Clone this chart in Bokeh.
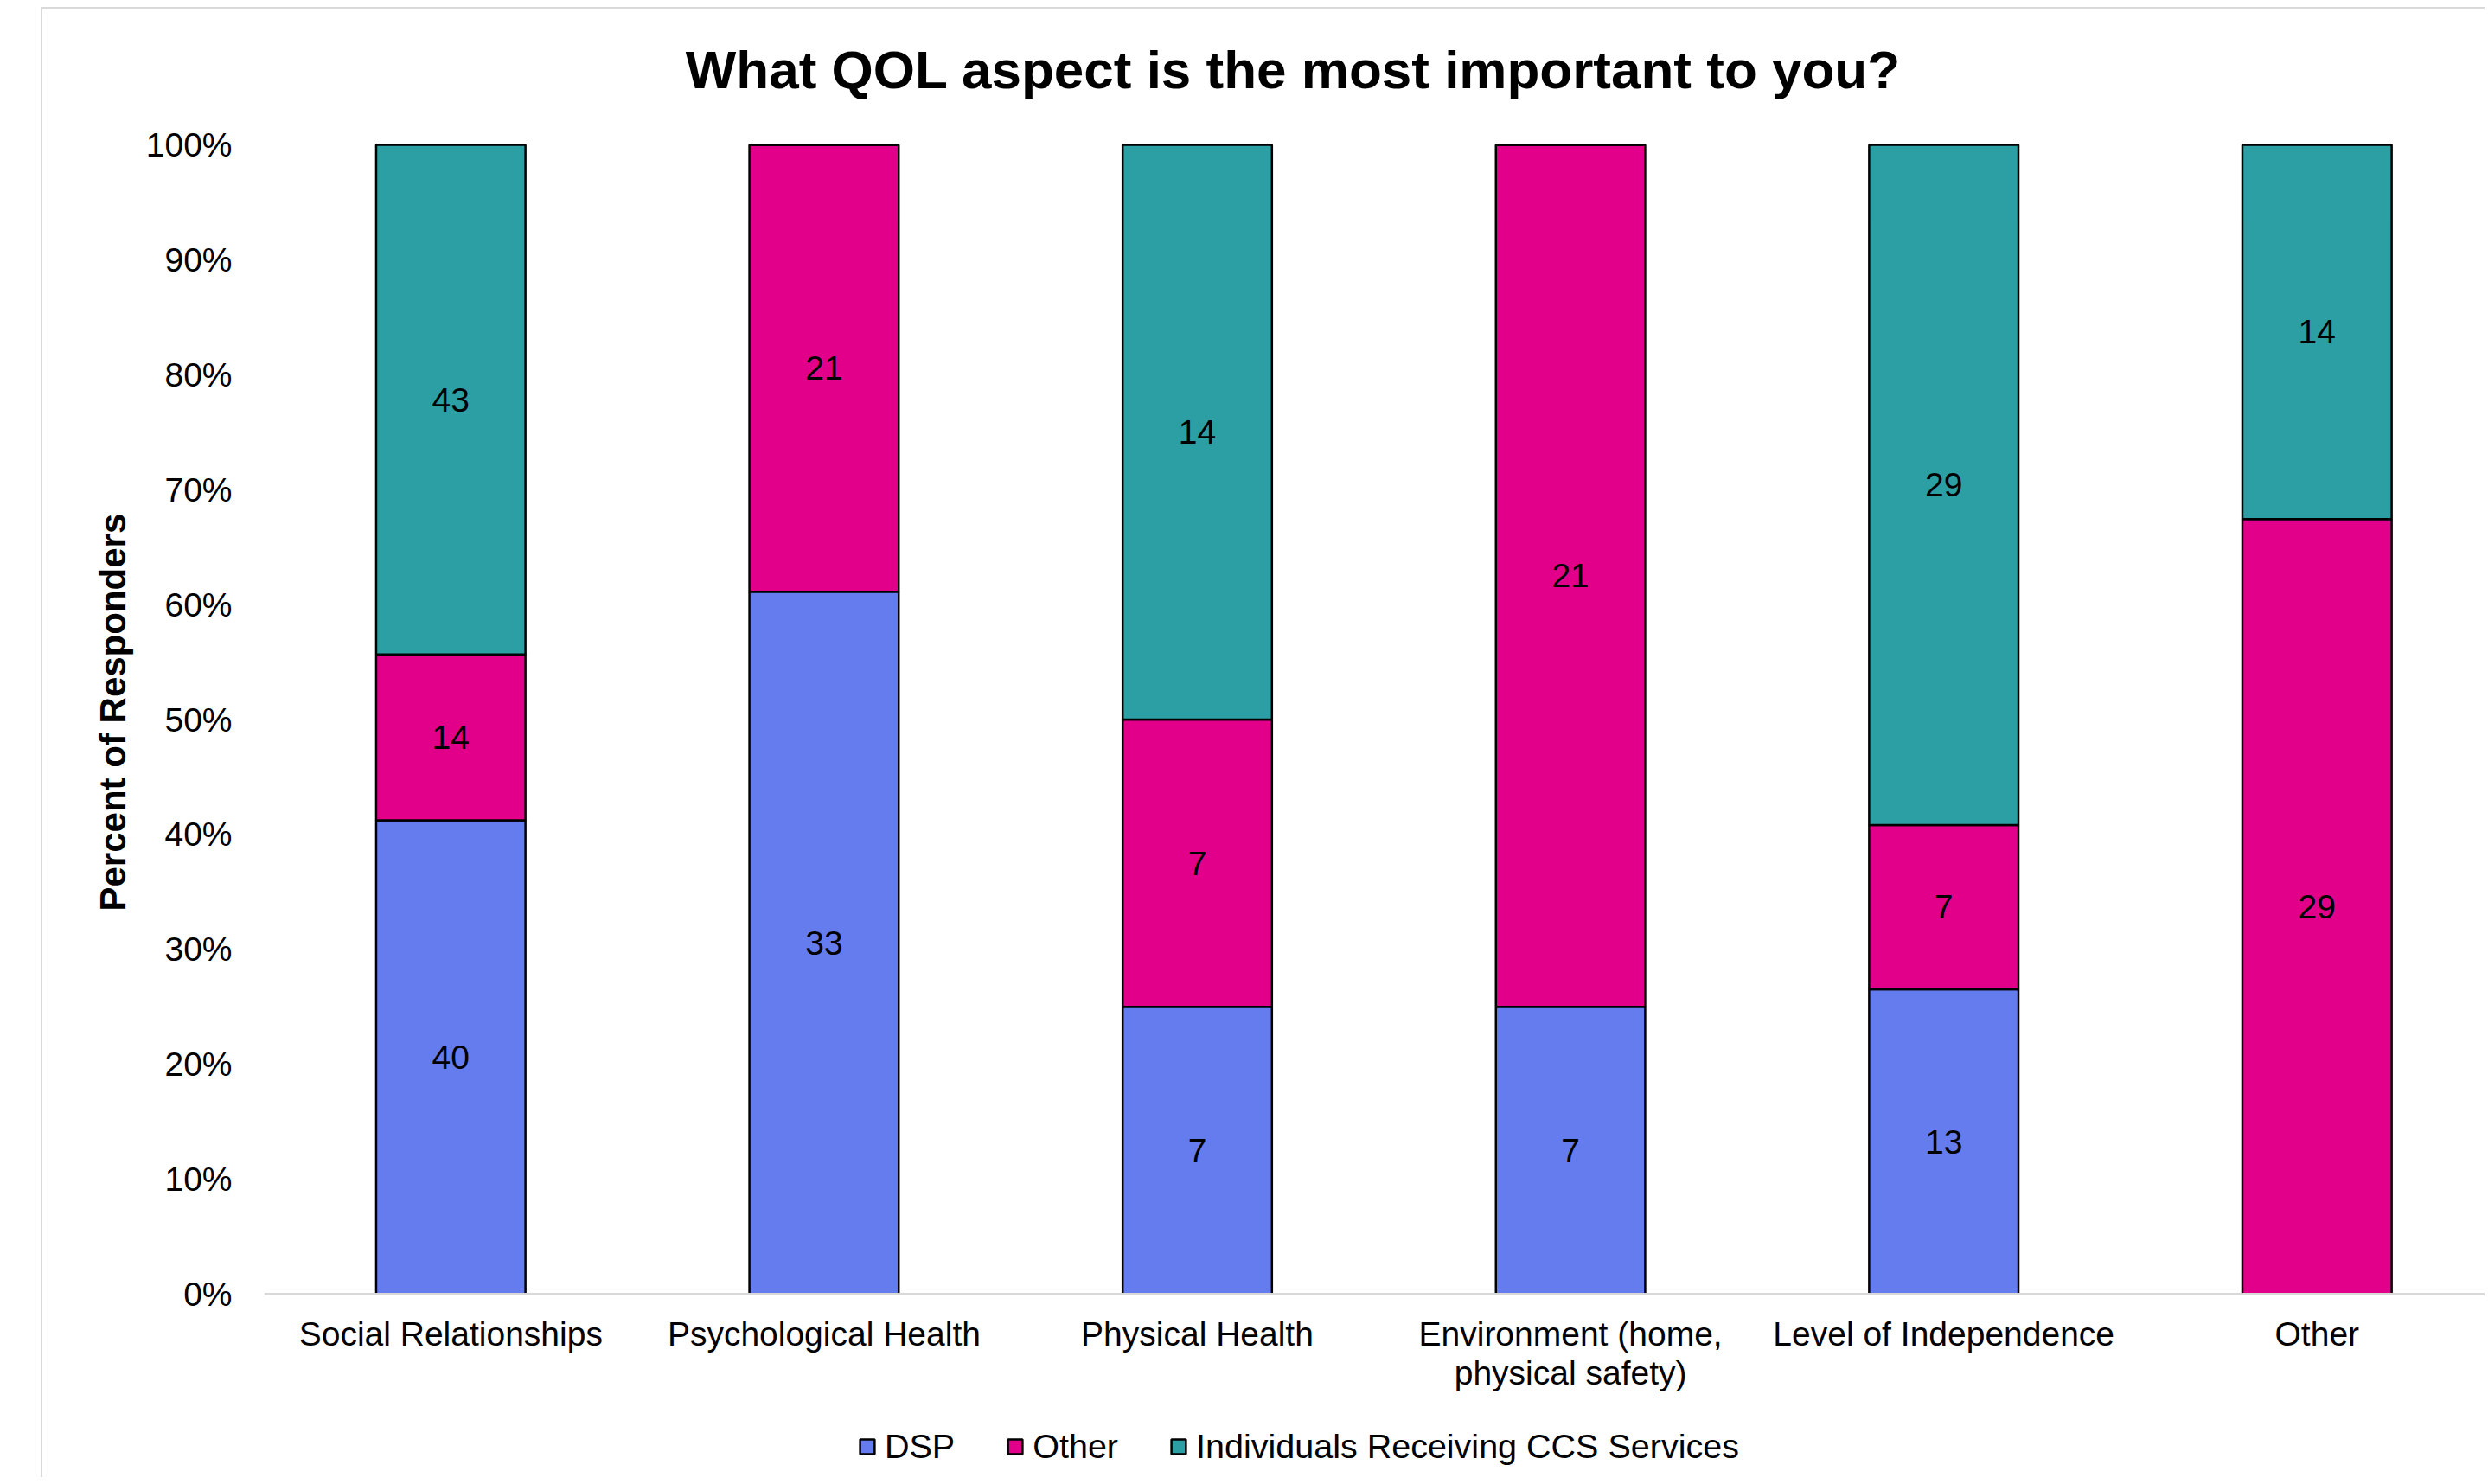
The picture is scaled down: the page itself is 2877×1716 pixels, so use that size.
from bokeh.plotting import figure
from bokeh.models import (ColumnDataSource, Range1d, FixedTicker, NumeralTickFormatter,
                          Legend, LegendItem, Title, Label)
from bokeh.core.properties import value
from bokeh.embed import file_html
from bokeh.resources import INLINE

# ---- data ----
categories = ["Social Relationships", "Psychological Health", "Physical Health",
              "Environment (home,\nphysical safety)", "Level of Independence", "Other"]
dsp = [40, 33, 7, 7, 13, 0]
other = [14, 21, 7, 21, 7, 29]
ccs = [43, 0, 14, 0, 29, 14]
series_names = ["DSP", "Other", "Individuals Receiving CCS Services"]
colors = ["#657CEF", "#E2008A", "#2C9FA5"]
y_ticks = [i / 10 for i in range(11)]
chart_title = "What QOL aspect is the most important to you?"
y_title = "Percent of Responders"

FONT = "Liberation Sans"
OX, OY = 49, 10          # page position of the canvas (margin + border)
W, H = 2826, 1700
FRAME_L = 305 - OX
PAGE_Y100, PAGE_Y0 = 167, 1496
px_per_unit_y = PAGE_Y0 - PAGE_Y100
y_start = -((OY + H) - PAGE_Y0) / px_per_unit_y
y_end = 1 + (PAGE_Y100 - OY) / px_per_unit_y
px_per_cat = 431.6
x_end = -0.5 + (W - FRAME_L) / px_per_cat

def page_to_x(px):
    return -0.5 + (px - 305) / px_per_cat

def page_to_y(py):
    return 1 + (PAGE_Y100 - py) / px_per_unit_y

p = figure(width=W, height=H, output_backend="svg", toolbar_location=None,
           title=None,
           x_range=Range1d(-0.5, x_end), y_range=Range1d(y_start, y_end),
           min_border_left=FRAME_L, min_border_top=0,
           min_border_bottom=0, min_border_right=0)
p.margin = (8, 0, 0, 47)
p.styles = {"border-left": "2px solid #D9D9D9", "border-top": "2px solid #D9D9D9"}
p.outline_line_color = None
p.xgrid.grid_line_color = None
p.ygrid.grid_line_color = None
p.background_fill_color = "white"
p.border_fill_color = "white"

# chart title
p.add_layout(Label(x=page_to_x(1495), y=page_to_y(80), text=chart_title,
                   text_align="center", text_baseline="alphabetic",
                   text_font=FONT, text_font_size="62px", text_font_style="bold",
                   text_color="black"))

# stacked shares
xs = list(range(len(categories)))
series = [dsp, other, ccs]
totals = [sum(v) for v in zip(*series)]
bottoms = [0.0] * len(categories)
legend_items = []
label_x, label_y, label_t = [], [], []
for name, vals, col in zip(series_names, series, colors):
    fr = [v / t for v, t in zip(vals, totals)]
    tops = [b + f for b, f in zip(bottoms, fr)]
    src = ColumnDataSource(dict(x=xs, bottom=bottoms, top=tops))
    r = p.vbar(x="x", bottom="bottom", top="top", width=0.4, source=src,
               fill_color=col, line_color="black", line_width=2.5)
    legend_items.append(LegendItem(label=name, renderers=[r]))
    for xi, b, t, v in zip(xs, bottoms, tops, vals):
        if v > 0:
            label_x.append(xi)
            label_y.append((b + t) / 2)
            label_t.append(str(v))
    bottoms = tops

lsrc = ColumnDataSource(dict(x=label_x, y=label_y, t=label_t))
p.text(x="x", y="y", text="t", source=lsrc, text_align="center",
       text_baseline="middle", text_font=value(FONT), text_font_size="39px",
       text_color="black")

# axes
xa = p.xaxis[0]
xa.fixed_location = 0
xa.ticker = FixedTicker(ticks=xs)
xa.major_label_overrides = {i: c for i, c in enumerate(categories)}
xa.major_label_text_font = FONT
xa.major_label_text_font_size = "39px"
xa.major_label_text_line_height = 1.05
xa.major_label_text_color = "black"
xa.major_tick_line_color = None
xa.minor_tick_line_color = None
xa.major_tick_out = 0
xa.major_label_standoff = 24
xa.axis_line_color = "#D9D9D9"
xa.axis_line_width = 3

ya = p.yaxis[0]
ya.ticker = FixedTicker(ticks=y_ticks)
ya.formatter = NumeralTickFormatter(format="0%")
ya.major_label_text_font = FONT
ya.major_label_text_font_size = "39px"
ya.major_label_text_color = "black"
ya.major_tick_line_color = None
ya.minor_tick_line_color = None
ya.major_tick_out = 0
ya.major_label_standoff = 37
ya.axis_line_color = None

# y axis title, placed along the 0-100% span rather than the whole frame
ytitle = Title(text=y_title, align="left", offset=(OY + H) - 1053, standoff=24,
               text_font=FONT, text_font_size="42px", text_font_style="bold",
               text_color="black")
p.add_layout(ytitle, "left")

legend = Legend(items=legend_items, orientation="horizontal",
                location=(992 - 305, (OY + H) - 1695),
                label_text_font=FONT, label_text_font_size="39.5px",
                label_text_color="black", glyph_width=21, glyph_height=21,
                label_standoff=10, spacing=59, padding=0, margin=0,
                border_line_color=None, background_fill_alpha=0)
p.add_layout(legend, "center")

open("out.html", "w").write(file_html(p, INLINE))
